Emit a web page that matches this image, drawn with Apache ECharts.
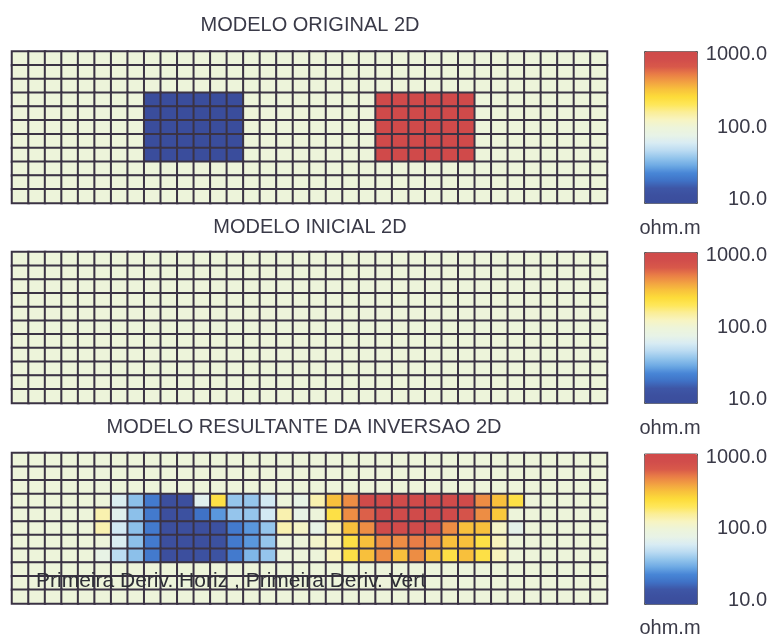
<!DOCTYPE html>
<html>
<head>
<meta charset="utf-8">
<script src="https://cdn.jsdelivr.net/npm/echarts@6/dist/echarts.min.js"></script>
<style>
html,body{margin:0;padding:0;background:#ffffff;}
#chart{width:771px;height:637px;}
</style>
</head>
<body>
<div id="chart"></div>
<script>
// ---- categories ----
const colLabels = ['1','2','3','4','5','6','7','8','9','10','11','12','13','14','15','16','17','18',
  '19','20','21','22','23','24','25','26','27','28','29','30','31','32','33','34','35','36'];
const rowLabels = ['1','2','3','4','5','6','7','8','9','10','11'];

// ---- titles / labels ----
const panelTitles = ['MODELO ORIGINAL 2D', 'MODELO INICIAL 2D', 'MODELO RESULTANTE DA INVERSAO 2D'];
const unitLabel = 'ohm.m';
const annotation = 'Primeira Deriv. Horiz , Primeira Deriv. Vert';
const colorbarTicks = [1, 2, 3]; // log10 of 10, 100, 1000 ohm.m

// ---- resistivity values (ohm.m), one row per depth level ----
const originalModel = [
  [100,100,100,100,100,100,100,100,100,100,100,100,100,100,100,100,100,100,100,100,100,100,100,100,100,100,100,100,100,100,100,100,100,100,100,100],
  [100,100,100,100,100,100,100,100,100,100,100,100,100,100,100,100,100,100,100,100,100,100,100,100,100,100,100,100,100,100,100,100,100,100,100,100],
  [100,100,100,100,100,100,100,100,100,100,100,100,100,100,100,100,100,100,100,100,100,100,100,100,100,100,100,100,100,100,100,100,100,100,100,100],
  [100,100,100,100,100,100,100,100,10,10,10,10,10,10,100,100,100,100,100,100,100,100,1000,1000,1000,1000,1000,1000,100,100,100,100,100,100,100,100],
  [100,100,100,100,100,100,100,100,10,10,10,10,10,10,100,100,100,100,100,100,100,100,1000,1000,1000,1000,1000,1000,100,100,100,100,100,100,100,100],
  [100,100,100,100,100,100,100,100,10,10,10,10,10,10,100,100,100,100,100,100,100,100,1000,1000,1000,1000,1000,1000,100,100,100,100,100,100,100,100],
  [100,100,100,100,100,100,100,100,10,10,10,10,10,10,100,100,100,100,100,100,100,100,1000,1000,1000,1000,1000,1000,100,100,100,100,100,100,100,100],
  [100,100,100,100,100,100,100,100,10,10,10,10,10,10,100,100,100,100,100,100,100,100,1000,1000,1000,1000,1000,1000,100,100,100,100,100,100,100,100],
  [100,100,100,100,100,100,100,100,100,100,100,100,100,100,100,100,100,100,100,100,100,100,100,100,100,100,100,100,100,100,100,100,100,100,100,100],
  [100,100,100,100,100,100,100,100,100,100,100,100,100,100,100,100,100,100,100,100,100,100,100,100,100,100,100,100,100,100,100,100,100,100,100,100],
  [100,100,100,100,100,100,100,100,100,100,100,100,100,100,100,100,100,100,100,100,100,100,100,100,100,100,100,100,100,100,100,100,100,100,100,100]
];

const initialModel = [
  [100,100,100,100,100,100,100,100,100,100,100,100,100,100,100,100,100,100,100,100,100,100,100,100,100,100,100,100,100,100,100,100,100,100,100,100],
  [100,100,100,100,100,100,100,100,100,100,100,100,100,100,100,100,100,100,100,100,100,100,100,100,100,100,100,100,100,100,100,100,100,100,100,100],
  [100,100,100,100,100,100,100,100,100,100,100,100,100,100,100,100,100,100,100,100,100,100,100,100,100,100,100,100,100,100,100,100,100,100,100,100],
  [100,100,100,100,100,100,100,100,100,100,100,100,100,100,100,100,100,100,100,100,100,100,100,100,100,100,100,100,100,100,100,100,100,100,100,100],
  [100,100,100,100,100,100,100,100,100,100,100,100,100,100,100,100,100,100,100,100,100,100,100,100,100,100,100,100,100,100,100,100,100,100,100,100],
  [100,100,100,100,100,100,100,100,100,100,100,100,100,100,100,100,100,100,100,100,100,100,100,100,100,100,100,100,100,100,100,100,100,100,100,100],
  [100,100,100,100,100,100,100,100,100,100,100,100,100,100,100,100,100,100,100,100,100,100,100,100,100,100,100,100,100,100,100,100,100,100,100,100],
  [100,100,100,100,100,100,100,100,100,100,100,100,100,100,100,100,100,100,100,100,100,100,100,100,100,100,100,100,100,100,100,100,100,100,100,100],
  [100,100,100,100,100,100,100,100,100,100,100,100,100,100,100,100,100,100,100,100,100,100,100,100,100,100,100,100,100,100,100,100,100,100,100,100],
  [100,100,100,100,100,100,100,100,100,100,100,100,100,100,100,100,100,100,100,100,100,100,100,100,100,100,100,100,100,100,100,100,100,100,100,100],
  [100,100,100,100,100,100,100,100,100,100,100,100,100,100,100,100,100,100,100,100,100,100,100,100,100,100,100,100,100,100,100,100,100,100,100,100]
];

const invertedModel = [
  [100,100,100,100,100,100,100,100,100,100,100,100,100,100,100,100,100,100,100,100,100,100,100,100,100,100,100,100,100,100,100,100,100,100,100,100],
  [100,100,100,100,100,100,100,100,100,100,100,100,100,100,100,100,100,100,100,100,100,100,100,100,100,100,100,100,100,100,100,100,100,100,100,100],
  [100,100,100,100,100,100,100,100,100,100,100,100,100,100,100,100,100,100,100,100,100,100,100,100,100,100,100,100,100,100,100,100,100,100,100,100],
  [100,100,100,100,100,100,65,38,22,12,12,70,230,40,40,60,100,80,140,320,450,900,900,900,900,900,900,900,450,320,230,100,100,100,100,100],
  [100,100,100,100,100,140,70,38,22,12,13,20,28,40,40,60,140,80,100,230,450,600,900,900,900,900,900,700,450,300,100,100,100,100,100,100],
  [100,100,100,100,100,140,60,38,22,12,12,12,13,22,28,40,140,120,80,140,320,450,900,900,900,800,450,320,320,120,75,100,100,100,100,100],
  [100,100,100,100,100,100,65,38,22,12,12,12,13,22,28,40,100,100,115,125,230,320,450,450,500,450,320,320,230,130,100,100,100,100,100,100],
  [100,100,100,100,100,80,50,38,22,12,12,13,14,22,35,40,100,100,100,130,230,320,450,320,450,320,230,320,230,130,100,100,100,100,100,100],
  [100,100,100,100,100,100,100,100,100,100,100,100,100,100,100,100,100,100,100,100,100,100,100,100,100,100,100,100,100,100,100,100,100,100,100,100],
  [100,100,100,100,100,100,100,100,100,100,100,100,100,100,100,100,100,100,100,100,100,100,100,100,100,100,100,100,100,100,100,100,100,100,100,100],
  [100,100,100,100,100,100,100,100,100,100,100,100,100,100,100,100,100,100,100,100,100,100,100,100,100,100,100,100,100,100,100,100,100,100,100,100]
];

const models = [originalModel, initialModel, invertedModel];

// ---- styling / layout ----
const palette = ['#3a4d9c','#3c509f','#3e56a6','#3f72c6','#4886d6','#6eaae4','#94c5ec','#bcdcf2','#d9ecf3','#e8f3e6',
  '#edf4da','#f7f4c2','#fbee98','#fee75a','#fddc3a','#f8c23c','#f2a042','#e97d46','#d8584a','#d14d4b','#d04a4a'];
const panelTop = [51.5, 252, 453];
const panelHeight = [151.5, 151, 150.5];
const barTop = [51, 252, 453.5];
const barHeight = [152, 151, 150.5];
const titleX = [310, 310, 304];
const titleY = [15, 217, 417];
const unitY = [228, 428, 628];
const textColor = '#3a3a48';
const font = 'Liberation Sans, Arial, sans-serif';

const chart = echarts.init(document.getElementById('chart'), null, {renderer: 'canvas'});

const grid = [], xAxis = [], yAxis = [], series = [], visualMap = [], title = [];
for (let i = 0; i < 3; i++) {
  grid.push({left: 12, top: panelTop[i], width: 595, height: panelHeight[i], containLabel: false});
  xAxis.push({type: 'category', gridIndex: i, data: colLabels, show: false});
  yAxis.push({type: 'category', gridIndex: i, data: rowLabels, inverse: true, show: false});
  const data = [];
  models[i].forEach((row, r) => row.forEach((v, c) => data.push([c, r, Math.log10(v), v])));
  series.push({
    type: 'heatmap', xAxisIndex: i, yAxisIndex: i, data: data,
    itemStyle: {borderColor: '#3b3344', borderWidth: 2},
    emphasis: {disabled: true}, silent: true
  });
  visualMap.push({
    type: 'continuous', seriesIndex: i, dimension: 2, min: 1, max: 3,
    calculable: false, hoverLink: false, orient: 'vertical',
    left: 644, top: barTop[i], itemWidth: 53, itemHeight: barHeight[i], padding: 0,
    borderColor: '#555', borderWidth: 1,
    inRange: {color: palette}
  });
  title.push({
    text: panelTitles[i], left: titleX[i], top: titleY[i], textAlign: 'center', padding: 0,
    textStyle: {fontSize: 20, fontWeight: 'normal', color: textColor, fontFamily: font}
  });
}
// colorbar tick-label axes
for (let i = 0; i < 3; i++) {
  const g = grid.length;
  grid.push({left: 644, top: barTop[i] + 3.5, width: 53, height: barHeight[i] - 7});
  xAxis.push({type: 'value', gridIndex: g, show: false, min: 0, max: 1});
  yAxis.push({
    type: 'value', gridIndex: g, min: colorbarTicks[0], max: colorbarTicks[2], interval: 1, position: 'right',
    axisLine: {show: false}, axisTick: {show: false}, splitLine: {show: false},
    axisLabel: {align: 'right', margin: 70, fontSize: 20, color: textColor, fontFamily: font,
      formatter: v => Math.pow(10, v).toFixed(1)}
  });
}

const graphic = [];
for (let i = 0; i < 3; i++) {
  graphic.push({type: 'text', x: 670, y: unitY[i], silent: true,
    style: {text: unitLabel, fill: textColor, font: '20px ' + font, align: 'center', verticalAlign: 'middle'}});
}
graphic.push({type: 'text', x: 36, y: 581, silent: true, z: 100,
  style: {text: annotation, fill: '#2e2e36', font: '21px ' + font, align: 'left', verticalAlign: 'middle'}});

chart.setOption({
  backgroundColor: '#ffffff',
  animation: false,
  title: title,
  grid: grid,
  xAxis: xAxis,
  yAxis: yAxis,
  visualMap: visualMap,
  series: series,
  graphic: graphic
});
</script>
</body>
</html>
